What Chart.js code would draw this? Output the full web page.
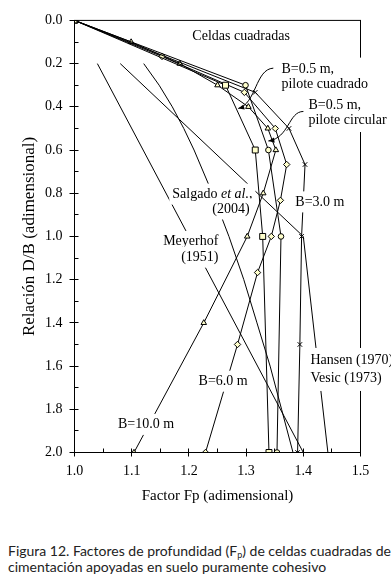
<!DOCTYPE html>
<html><head><meta charset="utf-8">
<script src="https://cdn.jsdelivr.net/npm/chart.js@4"></script>
<style>
html,body{margin:0;padding:0;background:#fff;width:391px;height:580px;overflow:hidden;}
#wrap{position:absolute;left:0;top:0;width:391px;height:510px;}
#cap{position:absolute;left:8px;top:543px;font-family:Lato,"Open Sans",sans-serif;font-size:14px;line-height:15.5px;color:#222;white-space:nowrap;}
#cap sub{font-size:9px;line-height:0;vertical-align:-2px;}
</style></head><body>
<div id="wrap"><canvas id="c"></canvas></div>
<div id="cap">Figura 12. Factores de profundidad (F<sub>p</sub>) de celdas cuadradas de<br>cimentación apoyadas en suelo puramente cohesivo</div>
<script>
// ---- tick labels ----
const xTicks = [1.0, 1.1, 1.2, 1.3, 1.4, 1.5];
const xMinorTicks = [1.05, 1.15, 1.25, 1.35, 1.45];
const yTicks = [0, 0.2, 0.4, 0.6, 0.8, 1.0, 1.2, 1.4, 1.6, 1.8, 2.0];
const yMinorTicks = [0.1, 0.3, 0.5, 0.7, 0.9, 1.1, 1.3, 1.5, 1.7, 1.9];

// ---- series (Fp vs D/B) ----
const dbCircle = [0, 0.3, 0.6, 1.0, 2.0];
const fpCircle = [1.0, 1.299, 1.339, 1.361, 1.354];
const dbSquare = [0, 0.3, 0.6, 1.0, 2.0];
const fpSquare = [1.0, 1.264, 1.316, 1.329, 1.340];
const dbB3 = [0, 0.333, 0.5, 0.667, 1.0, 1.5, 2.0];
const fpB3 = [1.0, 1.316, 1.375, 1.403, 1.397, 1.394, 1.390];
const dbB6 = [0, 0.167, 0.333, 0.5, 0.667, 0.833, 1.0, 1.167, 1.5, 2.0];
const fpB6 = [1.0, 1.153, 1.297, 1.351, 1.371, 1.360, 1.344, 1.320, 1.285, 1.229];
const dbB10 = [0, 0.1, 0.2, 0.3, 0.4, 0.5, 0.6, 0.8, 1.0, 1.4, 2.0];
const fpB10 = [1.0, 1.099, 1.184, 1.250, 1.304, 1.338, 1.352, 1.330, 1.302, 1.226, 1.104];
const dbMeyerhof = [0.2, 2.0];
const fpMeyerhof = [1.04, 1.40];
const dbHansen = [0.2, 1.0, 2.0];
const fpHansen = [1.08, 1.40, 1.443];
const dbSalgado = [0.2, 0.3, 0.4, 0.5, 0.6, 0.8, 1.0, 1.2, 1.4, 1.6, 1.8, 2.0];
const fpSalgado = [1.121, 1.148, 1.171, 1.191, 1.209, 1.241, 1.270, 1.296, 1.319, 1.342, 1.362, 1.382];

const SERIF = '"Liberation Serif","Times New Roman",serif';
const FILL = '#ffffcc', LINE = '#000';

const pts = (xs, ys) => xs.map((v, i) => ({x: v, y: ys[i]}));
function ds(label, xs, ys, style, r) {
  return {label, data: pts(xs, ys), showLine: true, borderColor: LINE, borderWidth: 1,
    pointStyle: style || 'circle', pointRadius: style ? r : 0, pointHoverRadius: style ? r : 0,
    pointBackgroundColor: FILL, pointBorderColor: LINE, pointBorderWidth: 1, tension: 0, fill: false};
}

// annotation texts (data coordinates: Fp, D/B of first line)
const notes = [
  {fp: 1.206, db: 0.075, gap: 15, pad: 2, lines: [[['Celdas cuadradas', 0]]]},
  {fp: 1.3617, db: 0.2255, gap: 15, pad: 4, lines: [[['B=0.5 m,', 0]], [['pilote cuadrado', 0]]]},
  {fp: 1.409, db: 0.394, gap: 15, pad: 4, lines: [[['B=0.5 m,', 0]], [['pilote circular', 0]]]},
  {fp: 1.171, db: 0.804, gap: 15, pad: 3, lines: [[['Salgado ', 0], ['et al.', 1], [',', 0]]]},
  {fp: 1.241, db: 0.873, gap: 15, pad: 3, lines: [[['(2004)', 0]]]},
  {fp: 1.155, db: 1.023, gap: 15, pad: 3, lines: [[['Meyerhof', 0]]]},
  {fp: 1.1865, db: 1.096, gap: 15, pad: 3, lines: [[['(1951)', 0]]]},
  {fp: 1.386, db: 0.840, gap: 15, pad: 3, lines: [[['B=3.0 m', 0]]]},
  {fp: 1.4125, db: 1.574, gap: 18, pad: 5, lines: [[['Hansen (1970)', 0]], [['Vesic (1973)', 0]]]},
  {fp: 1.217, db: 1.670, gap: 15, pad: 3, lines: [[['B=6.0 m', 0]]]},
  {fp: 1.076, db: 1.870, gap: 15, pad: 3, lines: [[['B=10.0 m', 0]]]}
];
const arrows = [
  {p0: [1.3476, 0.2209], c1: [1.3161, 0.2255], c2: [1.3179, 0.385], p3: [1.2863, 0.4077]},
  {p0: [1.4002, 0.4214], c1: [1.3739, 0.4214], c2: [1.3757, 0.5444], p3: [1.3389, 0.5581]}
];

const FS = 14;
const fontFor = it => (it ? 'italic ' : '') + FS + 'px ' + SERIF;

const decor = {
  id: 'decor',
  afterDraw(chart) {
    const {ctx, chartArea: a, scales: {x, y}} = chart;
    ctx.save();
    ctx.strokeStyle = '#000'; ctx.lineWidth = 1;
    ctx.strokeRect(a.left, a.top, a.right - a.left, a.bottom - a.top);
    ctx.beginPath();
    yTicks.forEach(v => { const py = Math.round(y.getPixelForValue(v) - 0.5) + 0.5; ctx.moveTo(a.left - 5, py); ctx.lineTo(a.left + 4, py); });
    yMinorTicks.forEach(v => { const py = Math.round(y.getPixelForValue(v) - 0.5) + 0.5; ctx.moveTo(a.left, py); ctx.lineTo(a.left + 4, py); });
    xTicks.forEach(v => { const px = Math.round(x.getPixelForValue(v) - 0.5) + 0.5; ctx.moveTo(px, a.bottom - 4); ctx.lineTo(px, a.bottom + 4); });
    xMinorTicks.forEach(v => { const px = Math.round(x.getPixelForValue(v) - 0.5) + 0.5; ctx.moveTo(px, a.bottom - 4); ctx.lineTo(px, a.bottom); });
    ctx.stroke();

    // labels with white boxes
    ctx.textBaseline = 'middle';
    notes.forEach(n => {
      const lx = x.getPixelForValue(n.fp), ly = y.getPixelForValue(n.db);
      let maxW = 0;
      n.lines.forEach(runs => {
        let w = 0; runs.forEach(([t, it]) => { ctx.font = fontFor(it); w += ctx.measureText(t).width; });
        maxW = Math.max(maxW, w);
      });
      ctx.fillStyle = '#fff';
      ctx.fillRect(lx - n.pad, ly - 7.5 - n.pad, maxW + 2 * n.pad, (n.lines.length - 1) * n.gap + 15 + 2 * n.pad);
      ctx.fillStyle = '#000';
      n.lines.forEach((runs, i) => {
        let cx = lx;
        runs.forEach(([t, it]) => { ctx.font = fontFor(it); ctx.fillText(t, cx, ly + i * n.gap); cx += ctx.measureText(t).width; });
      });
    });

    // arrows
    arrows.forEach(ar => {
      const P = p => [x.getPixelForValue(p[0]), y.getPixelForValue(p[1])];
      const p0 = P(ar.p0), c1 = P(ar.c1), c2 = P(ar.c2), p3 = P(ar.p3);
      ctx.beginPath(); ctx.moveTo(p0[0], p0[1]);
      ctx.bezierCurveTo(c1[0], c1[1], c2[0], c2[1], p3[0], p3[1]);
      ctx.strokeStyle = '#000'; ctx.lineWidth = 1; ctx.stroke();
      const ang = Math.atan2(p3[1] - c2[1], p3[0] - c2[0]);
      const L = 6, W = 2.6;
      ctx.beginPath();
      ctx.moveTo(p3[0], p3[1]);
      ctx.lineTo(p3[0] - L * Math.cos(ang) + W * Math.sin(ang), p3[1] - L * Math.sin(ang) - W * Math.cos(ang));
      ctx.lineTo(p3[0] - L * Math.cos(ang) - W * Math.sin(ang), p3[1] - L * Math.sin(ang) + W * Math.cos(ang));
      ctx.closePath(); ctx.fillStyle = '#000'; ctx.fill();
    });
    ctx.restore();
  }
};

new Chart(document.getElementById('c'), {
  type: 'scatter',
  data: {datasets: [
    ds('B=0.5 m, pilote circular', fpCircle, dbCircle, 'circle', 2.8),
    ds('B=0.5 m, pilote cuadrado', fpSquare, dbSquare, 'rect', 4.2),
    ds('B=3.0 m', fpB3, dbB3, 'crossRot', 3.2),
    ds('B=6.0 m', fpB6, dbB6, 'rectRot', 3.2),
    ds('B=10.0 m', fpB10, dbB10, 'triangle', 3.2),
    ds('Meyerhof (1951)', fpMeyerhof, dbMeyerhof, null, 0),
    ds('Hansen (1970) Vesic (1973)', fpHansen, dbHansen, null, 0),
    ds('Salgado et al. (2004)', fpSalgado, dbSalgado, null, 0)
  ]},
  options: {
    responsive: true, maintainAspectRatio: false, animation: false,
    events: [],
    layout: {padding: {left: 0, right: 30.5, top: 13.5, bottom: 0}},
    plugins: {legend: {display: false}, tooltip: {enabled: false}},
    scales: {
      x: {type: 'linear', min: 1.0, max: 1.5,
        afterBuildTicks(s) { s.ticks = xTicks.map(v => ({value: v})); },
        afterFit(s) { s.height = 57.5; },
        ticks: {callback: v => Number(v).toFixed(1), font: {family: SERIF, size: 14}, color: '#000', padding: 10.5, maxRotation: 0, autoSkip: false},
        grid: {display: false, drawTicks: false}, border: {display: false},
        title: {display: true, text: 'Factor Fp (adimensional)', font: {family: SERIF, size: 15}, color: '#000', padding: {top: 0, bottom: 5}}
      },
      y: {type: 'linear', min: 0, max: 2, reverse: true,
        afterBuildTicks(s) { s.ticks = yTicks.map(v => ({value: v})); },
        afterFit(s) { s.width = 74.5; },
        ticks: {callback: v => Number(v).toFixed(1), font: {family: SERIF, size: 14}, color: '#000', padding: 12, autoSkip: false},
        grid: {display: false, drawTicks: false}, border: {display: false},
        title: {display: true, text: 'Relación D/B (adimensional)', font: {family: SERIF, size: 17}, color: '#000', padding: {top: 19, bottom: 0}}
      }
    }
  },
  plugins: [decor]
});
</script>
</body></html>
